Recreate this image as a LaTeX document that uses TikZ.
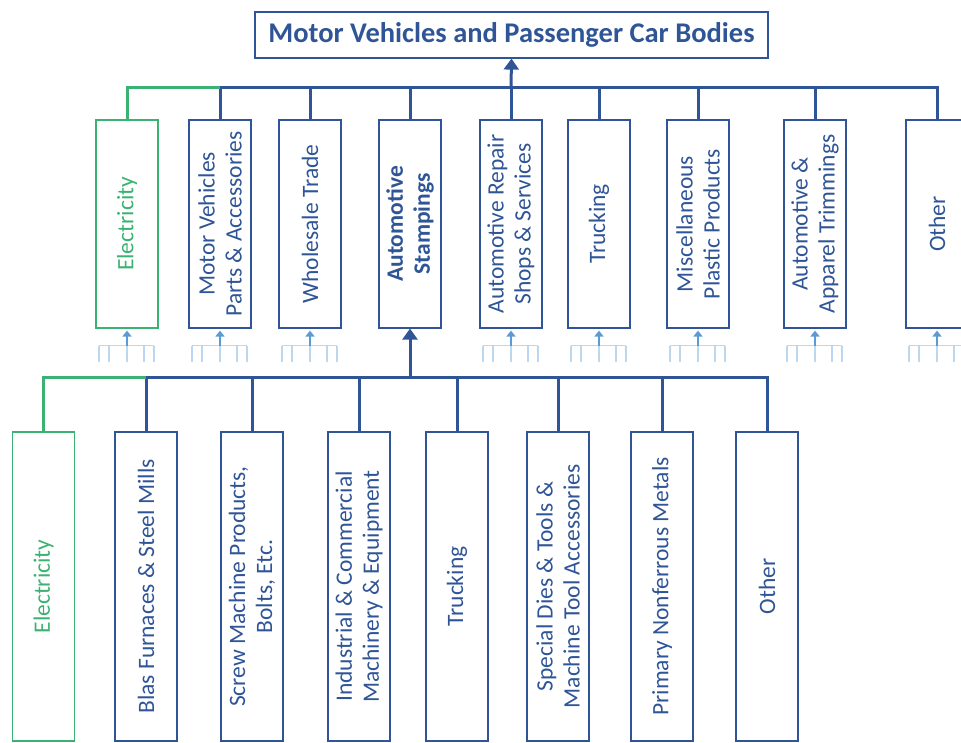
\documentclass[tikz,border=0pt]{standalone}
\usepackage{fontspec}
\setmainfont{Carlito}
\usetikzlibrary{arrows.meta, positioning}
\definecolor{navy}{RGB}{47,85,151}
\definecolor{leaf}{RGB}{59,178,115}
\definecolor{palesky}{RGB}{189,215,238}
\definecolor{midsky}{RGB}{91,155,213}
\begin{document}
\begin{tikzpicture}[x=1pt, y=1pt,
  titlebox/.style={draw=navy, line width=1.2pt, minimum width=513pt, minimum height=46pt, text=navy, font=\fontsize{28.5}{31}\selectfont\bfseries},
  upbox/.style={draw=navy, line width=1.2pt, minimum width=62pt, minimum height=208pt},
  lowbox/.style={draw=navy, line width=1.2pt, minimum width=62pt, minimum height=309pt},
  greenbox/.style={draw=leaf},
  boxtext/.style={rotate=90, align=center, text=navy, font=\fontsize{23.5}{27}\selectfont},
  greentext/.style={boxtext, text=leaf},
  busline/.style={draw=navy, line width=3pt},
  greenline/.style={draw=leaf, line width=3pt},
  uparrow/.style={busline, -{Triangle[length=11pt, width=15pt]}},
  treeline/.style={draw=palesky, line width=1.5pt},
  treearrow/.style={draw=midsky, line width=2pt, -{Triangle[length=6pt, width=9pt]}}]

  \useasboundingbox (0,0) rectangle (961,743);

  \node[titlebox] (title) at (511.5,708) {Motor Vehicles and Passenger Car Bodies};

  \node[upbox, greenbox, label={[greentext]center:Electricity}] (a1) at (127,519) {};
  \node[upbox, label={[boxtext]center:Motor Vehicles\\Parts \& Accessories}] (a2) at (220,519) {};
  \node[upbox, label={[boxtext]center:Wholesale Trade}] (a3) at (310,519) {};
  \node[upbox, label={[boxtext, font=\fontsize{23.5}{27}\selectfont\bfseries]center:Automotive\\Stampings}] (a4) at (410,519) {};
  \node[upbox, label={[boxtext]center:Automotive Repair\\Shops \& Services}] (a5) at (511,519) {};
  \node[upbox, label={[boxtext]center:Trucking}] (a6) at (599,519) {};
  \node[upbox, label={[boxtext]center:Miscellaneous\\Plastic Products}] (a7) at (698,519) {};
  \node[upbox, label={[boxtext]center:Automotive \&\\Apparel Trimmings}] (a8) at (815,519) {};
  \node[upbox, label={[boxtext]center:Other}] (a9) at (937,519) {};

  \coordinate (tbus) at (511,655);
  \foreach \b in {a2,a3,a4,a5,a6,a7,a8,a9}
    \draw[busline] (\b.north) |- (tbus);
  \draw[greenline] (a1.north) |- (a2.north |- tbus);
  \draw[uparrow] (tbus) -- (title.south);

  \foreach \b in {a1,a2,a3,a5,a6,a7,a8,a9}{
    \draw[treeline] ([xshift=-28pt, yshift=-17pt]\b.south) -- ([xshift=27pt, yshift=-17pt]\b.south);
    \foreach \dx in {-28,-18,0,17,27}
      \draw[treeline] ([xshift=\dx pt, yshift=-17pt]\b.south) -- ++(0,-16);
    \draw[treearrow] ([yshift=-17pt]\b.south) -- ([yshift=-2pt]\b.south);
  }

  \node[lowbox, greenbox, label={[greentext]center:Electricity}] (b1) at (43.5,156.5) {};
  \node[lowbox, label={[boxtext]center:Blas Furnaces \& Steel Mills}] (b2) at (146,156.5) {};
  \node[lowbox, label={[boxtext]center:Screw Machine Products,\\Bolts, Etc.}] (b3) at (252,156.5) {};
  \node[lowbox, label={[boxtext]center:Industrial \& Commercial\\Machinery \& Equipment}] (b4) at (359,156.5) {};
  \node[lowbox, label={[boxtext]center:Trucking}] (b5) at (457,156.5) {};
  \node[lowbox, label={[boxtext]center:Special Dies \& Tools \&\\Machine Tool Accessories}] (b6) at (558,156.5) {};
  \node[lowbox, label={[boxtext]center:Primary Nonferrous Metals}] (b7) at (662,156.5) {};
  \node[lowbox, label={[boxtext]center:Other}] (b8) at (767,156.5) {};

  \coordinate (bbus) at (410,365);
  \foreach \b in {b2,b3,b4,b5,b6,b7,b8}
    \draw[busline] (\b.north) |- (bbus);
  \draw[greenline] (b1.north) |- (b2.north |- bbus);
  \draw[uparrow] (bbus) -- (a4.south);

\end{tikzpicture}
\end{document}
